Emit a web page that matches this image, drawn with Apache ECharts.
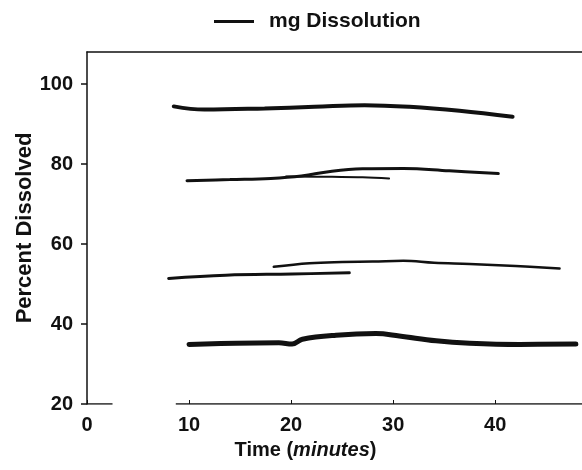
<!DOCTYPE html>
<html>
<head>
<meta charset="utf-8">
<script src="https://cdn.jsdelivr.net/npm/echarts@6/dist/echarts.min.js"></script>
<style>html,body{margin:0;padding:0;background:#fff;}#c{width:582px;height:470px;}</style>
</head>
<body>
<div id="c"></div>
<script>
// Data (time in minutes, percent dissolved)
const seriesName = 'mg Dissolution';
const xTicks = [0, 10, 20, 30, 40];
const yTicks = [20, 40, 60, 80, 100];

const topT = [8.5, 11.5, 17.4, 22.3, 27.2, 31.6, 36.5, 41.7];
const topV = [94.4, 93.6, 93.9, 94.3, 94.7, 94.3, 93.3, 91.8];

const upper80T = [9.8, 14, 18, 21, 24, 27, 31, 35.5, 40.3];
const upper80V = [75.8, 76.1, 76.4, 77.0, 78.2, 78.8, 78.9, 78.3, 77.6];

const lower80T = [19.5, 24, 27, 29.6];
const lower80V = [76.9, 76.8, 76.7, 76.4];

const lower55T = [8.0, 13.6, 20.1, 25.7];
const lower55V = [51.4, 52.2, 52.5, 52.8];

const upper55T = [18.3, 21.8, 25, 28, 31, 34, 37.5, 42, 46.3];
const upper55V = [54.3, 55.2, 55.5, 55.6, 55.8, 55.3, 55.0, 54.5, 53.9];

const low35T = [10.0, 14.6, 18.8, 20.1, 21.1, 24.4, 28.3, 30.6, 34.2, 37.5, 42.4, 47.9];
const low35V = [34.9, 35.2, 35.3, 35.0, 36.2, 37.2, 37.6, 37.0, 35.8, 35.2, 34.9, 35.0];

// broken x-axis baseline segments (data units)
const axisSegA = [0, 2.5];
const axisSegB = [8.7, 48.5];
const yBase = 20;

function pairs(t, v) { return t.map((x, i) => [x, v[i]]); }

const font = '"Liberation Sans", Arial, sans-serif';
const ink = '#111';

function curve(t, v, w) {
  return {
    name: seriesName, type: 'line', smooth: 0.4, symbol: 'none',
    data: pairs(t, v),
    lineStyle: { color: ink, width: w, cap: 'round' },
    itemStyle: { color: ink }
  };
}
function seg(s) {
  return {
    name: 'axis', type: 'line', symbol: 'none', silent: true,
    data: [[s[0], yBase], [s[1], yBase]],
    lineStyle: { color: ink, width: 1.5 }
  };
}

const chart = echarts.init(document.getElementById('c'));
chart.setOption({
  animation: false,
  backgroundColor: '#fff',
  grid: { left: 87, right: 0, top: 52, bottom: 66 },
  legend: {
    data: [seriesName], left: 209, top: 6,
    icon: 'rect', itemWidth: 40, itemHeight: 3,
    textStyle: { fontFamily: font, fontWeight: 'bold', fontSize: 21, color: ink, padding: [0, 0, 0, 10] }
  },
  xAxis: [{
    type: 'value', min: 0, max: 48.5, interval: 10,
    axisLine: { show: false },
    axisTick: { show: true, inside: true, length: 4, lineStyle: { color: ink }, customValues: xTicks },
    axisLabel: { color: ink, fontFamily: font, fontWeight: 'bold', fontSize: 20, margin: 11, customValues: xTicks },
    splitLine: { show: false },
    name: 'Time ({i|minutes})', nameLocation: 'middle', nameGap: 36,
    nameTextStyle: { color: ink, fontFamily: font, fontWeight: 'bold', fontSize: 20, padding: [0, 58, 0, 0],
      rich: { i: { fontStyle: 'italic', fontWeight: 'bold', fontSize: 20, fontFamily: font, color: ink } } }
  }, {
    type: 'value', min: 0, max: 48.5, position: 'top',
    axisLine: { show: true, lineStyle: { color: ink, width: 1.5 } },
    axisTick: { show: false }, axisLabel: { show: false }, splitLine: { show: false }
  }],
  yAxis: {
    type: 'value', min: 20, max: 108, interval: 20,
    axisLine: { show: true, lineStyle: { color: ink, width: 1.5 } },
    axisTick: { show: true, length: 6, lineStyle: { color: ink, width: 1.5 }, customValues: yTicks },
    axisLabel: { color: ink, fontFamily: font, fontWeight: 'bold', fontSize: 20, margin: 14, customValues: yTicks },
    splitLine: { show: false },
    name: 'Percent Dissolved', nameLocation: 'middle', nameGap: 51, nameRotate: 90,
    nameMoveOverlap: false,
    nameTextStyle: { color: ink, fontFamily: font, fontWeight: 'bold', fontSize: 22 }
  },
  series: [
    curve(topT, topV, 4),
    curve(upper80T, upper80V, 3),
    curve(lower80T, lower80V, 2),
    curve(lower55T, lower55V, 3),
    curve(upper55T, upper55V, 2.5),
    curve(low35T, low35V, 5),
    seg(axisSegA),
    seg(axisSegB)
  ]
});
</script>
</body>
</html>
